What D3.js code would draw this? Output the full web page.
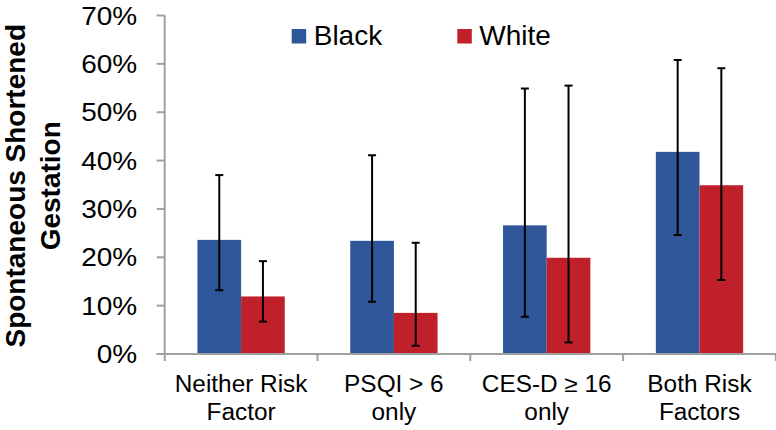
<!DOCTYPE html>
<html>
<head>
<meta charset="utf-8">
<script src="https://cdn.jsdelivr.net/npm/d3@7"></script>
<style>
  html, body { margin: 0; padding: 0; background: #fff; }
  svg text { font-family: "Liberation Sans", Arial, sans-serif; fill: #000; }
</style>
</head>
<body>
<div id="chart"></div>
<script>
// Data
const categories = [['Neither Risk', 'Factor'], ['PSQI > 6', 'only'], ['CES-D \u2265 16', 'only'], ['Both Risk', 'Factors']];
const groups = ['Black', 'White'];
const blackValues = [23.6, 23.4, 26.6, 41.8];
const whiteValues = [11.9, 8.5, 19.9, 34.9];
const blackLower = [13.2, 10.8, 7.7, 24.6];
const blackUpper = [37.0, 41.1, 54.9, 60.8];
const whiteLower = [6.7, 1.7, 2.4, 15.3];
const whiteUpper = [19.2, 23.0, 55.5, 59.1];
const yTicks = [0, 10, 20, 30, 40, 50, 60, 70];

const width = 776;
const height = 430;
const margin = { top: 15.5, right: 0.1, bottom: 76, left: 164.7 };
const colors = { Black: '#2e5698', White: '#c0202a' };
const axisColor = '#a0a0a0';

const svg = d3.select('#chart').append('svg').attr('width', width).attr('height', height);

const x = d3.scaleBand()
  .domain(d3.range(categories.length))
  .range([margin.left, width - margin.right]);

const y = d3.scaleLinear().domain([0, 70]).range([height - margin.bottom, margin.top]);

// bar pair occupies the middle of each category (gap width 150%)
const inner = d3.scaleBand().domain(groups).range([0, x.bandwidth()]).paddingOuter(0.75);

const rows = groups.map((g) => ({
  group: g,
  values: g === 'Black' ? blackValues : whiteValues,
  lower: g === 'Black' ? blackLower : whiteLower,
  upper: g === 'Black' ? blackUpper : whiteUpper,
}));

const barData = [];
rows.forEach((r) => {
  r.values.forEach((v, i) => {
    barData.push({ group: r.group, i, v, lo: r.lower[i], hi: r.upper[i] });
  });
});

// Bars
svg.append('g')
  .selectAll('rect')
  .data(barData)
  .join('rect')
  .attr('x', (d) => x(d.i) + inner(d.group))
  .attr('y', (d) => y(d.v))
  .attr('width', inner.bandwidth())
  .attr('height', (d) => y(0) - y(d.v))
  .attr('fill', (d) => colors[d.group]);

// Y axis
const yAxis = svg.append('g').attr('transform', `translate(${margin.left},0)`);
yAxis.append('line')
  .attr('x1', 0).attr('x2', 0)
  .attr('y1', y(70)).attr('y2', y(0))
  .attr('stroke', axisColor).attr('stroke-width', 2);
yAxis.selectAll('.tick')
  .data(yTicks)
  .join('line')
  .attr('x1', -8).attr('x2', 0)
  .attr('y1', (d) => y(d)).attr('y2', (d) => y(d))
  .attr('stroke', axisColor).attr('stroke-width', 2);
yAxis.selectAll('.tick-label')
  .data(yTicks)
  .join('text')
  .attr('dy', '0.36em')
  .attr('text-anchor', 'end')
  .style('font-size', '25px')
  .attr('transform', (d) => `translate(-27.5,${y(d)}) scale(1.12,1)`)
  .text((d) => d + '%');

// X axis
const xAxis = svg.append('g').attr('transform', `translate(0,${y(0)})`);
xAxis.append('line')
  .attr('x1', margin.left - 8).attr('x2', width - margin.right)
  .attr('y1', 0).attr('y2', 0)
  .attr('stroke', axisColor).attr('stroke-width', 2);
xAxis.selectAll('.xtick')
  .data(d3.range(categories.length + 1))
  .join('line')
  .attr('x1', (d) => (d < categories.length ? x(d) : x(d - 1) + x.bandwidth()))
  .attr('x2', (d) => (d < categories.length ? x(d) : x(d - 1) + x.bandwidth()))
  .attr('y1', 0).attr('y2', 7)
  .attr('stroke', axisColor).attr('stroke-width', 2);

const catLabels = xAxis.selectAll('.cat')
  .data(categories)
  .join('text')
  .attr('text-anchor', 'middle')
  .style('font-size', '23px')
  .attr('transform', (d, i) => `translate(${x(i) + x.bandwidth() / 2},0) scale(1.06,1)`);
catLabels.selectAll('tspan')
  .data((d) => d)
  .join('tspan')
  .attr('x', 0)
  .attr('y', (d, k) => 38 + k * 28)
  .text((d) => d);

// Error bars
const err = svg.append('g').attr('stroke', '#000').attr('stroke-width', 2);
barData.forEach((d) => {
  const cx = x(d.i) + inner(d.group) + inner.bandwidth() / 2;
  err.append('line').attr('x1', cx).attr('x2', cx).attr('y1', y(d.lo)).attr('y2', y(d.hi));
  err.append('line').attr('x1', cx - 4).attr('x2', cx + 4).attr('y1', y(d.lo)).attr('y2', y(d.lo));
  err.append('line').attr('x1', cx - 4).attr('x2', cx + 4).attr('y1', y(d.hi)).attr('y2', y(d.hi));
});

// Y axis title
const title = svg.append('text')
  .attr('transform', `translate(0,${(y(0) + y(70)) / 2 + 1}) rotate(-90)`)
  .attr('text-anchor', 'middle')
  .style('font-size', '28px')
  .style('font-weight', 'bold');
title.append('tspan').attr('x', 0).attr('y', 25).text('Spontaneous Shortened');
title.append('tspan').attr('x', 0).attr('y', 60).text('Gestation');

// Legend
const legendX = [291.7, 457.3];
const legend = svg.append('g')
  .selectAll('g')
  .data(groups)
  .join('g')
  .attr('transform', (d, i) => `translate(${legendX[i]},29)`);
legend.append('rect').attr('width', 14.5).attr('height', 14.5).attr('fill', (d) => colors[d]);
legend.append('text')
  .attr('x', 22)
  .attr('y', 16)
  .style('font-size', '28px')
  .text((d) => d);
</script>
</body>
</html>
